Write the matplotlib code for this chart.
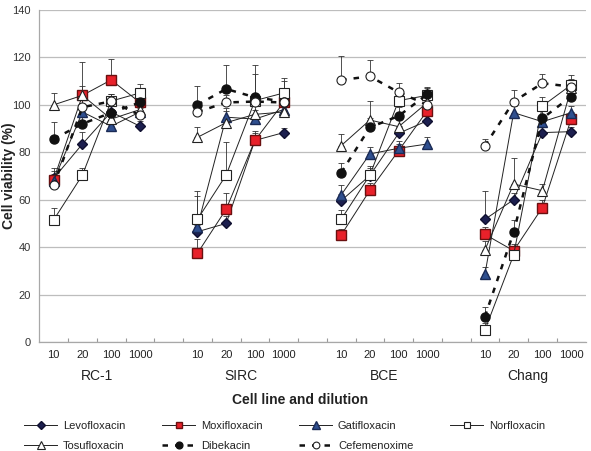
import matplotlib
matplotlib.use("Agg")
import matplotlib.pyplot as plt
from matplotlib import transforms
import numpy as np

plt.rcParams['font.family'] = ['Liberation Sans', 'DejaVu Sans']

groups = ["RC-1", "SIRC", "BCE", "Chang"]
dilutions = ["10", "20", "100", "1000"]

# values: RC-1, SIRC, BCE, Chang (each 4 dilutions)
levofloxacin = [69, 83.5, 97, 91,   46.5, 50, 85, 88.3,   59.6, 70.2, 88, 93.3,   51.7, 60, 88.3, 88.7]
moxifloxacin = [68.5, 104, 110.5, 101,   37.4, 56, 85, 101,   45.1, 64, 80.7, 97.6,   45.4, 38.5, 56.7, 94]
gatifloxacin = [68, 97, 91, 97,   48.6, 94.8, 94, 98,   62, 79.3, 81.7, 83.5,   28.5, 96.7, 92.9, 96.7]
norfloxacin = [51.5, 70.4, 101.6, 105,   51.7, 70.4, 101.8, 105,   51.7, 70.4, 101.8, 104,   5, 36.7, 99.5, 108.4]
tosufloxacin = [100, 104, 94, 98,   86.3, 92.5, 96, 97,   82.8, 93.6, 90.8, 101,   38.8, 66.6, 63.8, 107]
dibekacin = [85.6, 92, 96.7, 101,   100, 106.7, 103.2, 101.4,   71.4, 90.5, 95.3, 104.5,   10.7, 46.3, 94.3, 103.5]
cefemenoxime = [66, 99, 101.5, 95.7,   97, 101, 101.4, 101,   110.5, 112, 105.3, 100,   82.7, 101.4, 109.1, 107.7]

err_levofloxacin = [3, 5, 3, 2,   3, 3, 3, 2,   3, 3, 3, 2,   12, 3, 3, 2]
err_moxifloxacin = [5, 14, 9, 3,   6, 7, 4, 3,   2.5, 3, 3, 3,   3, 3, 3, 3]
err_gatifloxacin = [3, 5, 3, 3,   13, 4, 4, 3,   4, 3, 3, 3,   3, 3, 3, 3]
err_norfloxacin = [5, 3, 3, 4,   12, 14, 15, 5,   4, 4, 5, 3,   3, 3, 4, 4]
err_tosufloxacin = [5, 4, 4, 3,   4.5, 5, 4, 3,   5, 8, 4, 3,   4, 11, 3, 3]
err_dibekacin = [7, 5, 4, 3,   8, 10, 10, 10,   4, 4, 4, 3,   4, 5, 3, 3]
err_cefemenoxime = [3, 3, 3, 3,   3, 3, 3, 3,   10, 7, 4, 3,   3, 5, 4, 3]

series = [
    ("Levofloxacin", levofloxacin, err_levofloxacin, dict(marker='D', mfc='#1c1f4f', mec='#101030', ms=5, ls='-', lw=0.7, color='#222222')),
    ("Moxifloxacin", moxifloxacin, err_moxifloxacin, dict(marker='s', mfc='#e8212a', mec='#6a1010', ms=6.5, ls='-', lw=0.7, color='#222222')),
    ("Gatifloxacin", gatifloxacin, err_gatifloxacin, dict(marker='^', mfc='#2f4f8f', mec='#1a2a55', ms=7, ls='-', lw=0.7, color='#222222')),
    ("Norfloxacin", norfloxacin, err_norfloxacin, dict(marker='s', mfc='white', mec='#222222', ms=6.5, mew=0.8, ls='-', lw=0.7, color='#222222')),
    ("Tosufloxacin", tosufloxacin, err_tosufloxacin, dict(marker='^', mfc='white', mec='#222222', ms=7, mew=0.8, ls='-', lw=0.7, color='#222222')),
    ("Dibekacin", dibekacin, err_dibekacin, dict(marker='o', mfc='#111111', mec='#111111', ms=6.5, ls=(0, (2.2, 2.8)), lw=1.8, color='#111111')),
    ("Cefemenoxime", cefemenoxime, err_cefemenoxime, dict(marker='o', mfc='white', mec='#222222', ms=6.5, mew=0.8, ls=(0, (2.2, 2.8)), lw=1.8, color='#111111')),
]

W, H = 591, 451
fig = plt.figure(figsize=(W / 100, H / 100), dpi=100)
ax = fig.add_axes([39.3 / W, (H - 342) / H, (585.5 - 39.3) / W, (342 - 10) / H])

# positions: 4 per group, blank category between groups
xs = []
for g in range(len(groups)):
    xs.extend([g * 5 + 1 + i for i in range(len(dilutions))])
xs = np.array(xs, dtype=float)

handles = {}
for name, vals, errs, st in series:
    vals = np.array(vals, dtype=float)
    errs = np.array(errs, dtype=float)
    ax.errorbar(xs, vals, yerr=[np.zeros_like(errs), errs], fmt='none',
                ecolor='#333333', elinewidth=0.6, capsize=2.5, capthick=0.6, zorder=2)
    for g in range(len(groups)):
        sl = slice(g * 4, g * 4 + 4)
        h, = ax.plot(xs[sl], vals[sl], zorder=3, **st)
    handles[name] = h

ax.set_xlim(0.5, 19.5)
ax.set_ylim(0, 140)
ax.set_yticks(np.arange(0, 141, 20))
ax.yaxis.grid(True, color='#bdbdbd', lw=0.9)
ax.set_axisbelow(True)
ax.tick_params(axis='y', length=0, labelsize=8, colors='#333333', pad=6)

ax.set_xticks(xs)
ax.set_xticklabels(dilutions * len(groups), fontsize=8, color='#222222')
ax.tick_params(axis='x', which='major', length=0, pad=6)
ax.set_xticks(np.arange(1.5, 19.0, 1.0), minor=True)
ax.tick_params(axis='x', which='minor', direction='in', length=3, color='#999999', width=0.8)

for s in ['top', 'right']:
    ax.spines[s].set_visible(False)
for s in ['left', 'bottom']:
    ax.spines[s].set_color('#a8a8a8')
    ax.spines[s].set_linewidth(0.9)

tr = transforms.blended_transform_factory(ax.transData, fig.transFigure)
for g, name in enumerate(groups):
    ax.text(g * 5 + 2.5, (H - 376) / H, name, transform=tr, ha='center', va='center',
            fontsize=10, color='#222222')

fig.text(300 / W, (H - 400) / H, "Cell line and dilution", ha='center', va='center',
         fontsize=10, fontweight='bold', color='#222222')
fig.text(9 / W, (H - 176) / H, "Cell viability (%)", ha='center', va='center',
         rotation=90, fontsize=10, fontweight='bold', color='#222222')

order = ["Levofloxacin", "Tosufloxacin", "Moxifloxacin", "Dibekacin",
         "Gatifloxacin", "Cefemenoxime", "Norfloxacin"]
leg = fig.legend([handles[n] for n in order], order, ncol=4, loc='center left',
                 bbox_to_anchor=(24 / W, (H - 436) / H), frameon=False, fontsize=8,
                 handlelength=3.0, handletextpad=0.5, columnspacing=3.3,
                 labelspacing=0.95, borderaxespad=0, borderpad=0, markerscale=0.75)
for t in leg.get_texts():
    t.set_color('#222222')

fig.savefig("out.png", dpi=100)
